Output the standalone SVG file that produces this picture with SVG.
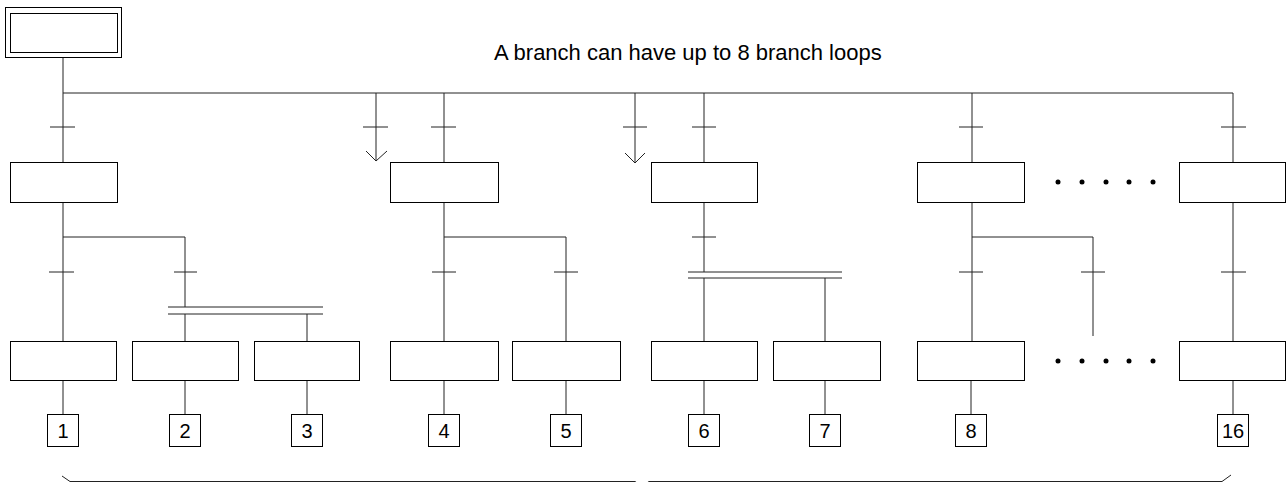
<svg xmlns="http://www.w3.org/2000/svg" width="1286" height="482" viewBox="0 0 1286 482">
<style>
.ln{stroke:#222;stroke-width:1;fill:none}
.st{fill:#fff;stroke:#000;stroke-width:1}
.nb{fill:#fff;stroke:#000;stroke-width:1}
.num{font-family:"Liberation Sans",Arial,sans-serif;font-size:20px;fill:#000;text-anchor:middle}
.ttl{font-family:"Liberation Sans",Arial,sans-serif;font-size:22px;fill:#000}
.dot{fill:#000}
</style>
<rect x="0" y="0" width="1286" height="482" fill="#fff"/>
<g id="connectors">
  <path class="ln" d="M63 52V341"/>
  <path class="ln" d="M63 93H1233"/>
  <path class="ln" d="M50 127H75M363 127H388M431 127H456M623 127H647M692 127H716M959 127H983M1221 127H1246"/>
  <path class="ln" d="M63 237H185V307"/>
  <path class="ln" d="M49 272H74M174 272H197"/>
  <path class="ln" d="M168 307H323M168 314H323"/>
  <path class="ln" d="M185 314V341M307 314V341"/>
  <path class="ln" d="M376 93V161M366 151L376 161L387 151"/>
  <path class="ln" d="M635 93V163M625 153L635 163L645 153"/>
  <path class="ln" d="M444 93V341"/>
  <path class="ln" d="M444 237H566V341"/>
  <path class="ln" d="M432 272H456M554 272H578"/>
  <path class="ln" d="M704 93V272"/>
  <path class="ln" d="M692 237H716"/>
  <path class="ln" d="M688 272H842M688 278H842"/>
  <path class="ln" d="M704 278V341M825 278V341"/>
  <path class="ln" d="M972 93V341"/>
  <path class="ln" d="M972 237H1093V336"/>
  <path class="ln" d="M959 272H983M1081 272H1105"/>
  <path class="ln" d="M1233 93V341"/>
  <path class="ln" d="M1221 272H1246"/>
  <path class="ln" d="M63 380V414M185 380V414M307 380V414M444 380V414M566 380V414M704 380V414M825 380V414M971 380V414M1233 380V414"/>
  <path class="ln" d="M62 476L70 481.5H635L642 486L649 481.5H1222L1231 475"/>
</g>
<g id="initial-step">
  <rect class="st" x="5.5" y="7.5" width="116" height="50"/>
  <rect class="st" x="10.5" y="13.5" width="107" height="39"/>
</g>
<g id="title"><text class="ttl" x="494" y="60">A branch can have up to 8 branch loops</text></g>
<g id="step-a1"><rect class="st" x="10.5" y="162.5" width="107" height="40"/></g>
<g id="step-a2"><rect class="st" x="390.5" y="162.5" width="108" height="40"/></g>
<g id="step-a3"><rect class="st" x="651.5" y="162.5" width="106" height="40"/></g>
<g id="step-a4"><rect class="st" x="917.5" y="162.5" width="107" height="40"/></g>
<g id="step-a5"><rect class="st" x="1179.5" y="162.5" width="106" height="40"/></g>
<g id="step-b1"><rect class="st" x="10.5" y="341.5" width="106" height="39"/></g>
<g id="step-b2"><rect class="st" x="132.5" y="341.5" width="106" height="39"/></g>
<g id="step-b3"><rect class="st" x="254.5" y="341.5" width="105" height="39"/></g>
<g id="step-b4"><rect class="st" x="390.5" y="341.5" width="108" height="39"/></g>
<g id="step-b5"><rect class="st" x="512.5" y="341.5" width="108" height="39"/></g>
<g id="step-b6"><rect class="st" x="651.5" y="341.5" width="106" height="39"/></g>
<g id="step-b7"><rect class="st" x="773.5" y="341.5" width="107" height="39"/></g>
<g id="step-b8"><rect class="st" x="917.5" y="341.5" width="107" height="39"/></g>
<g id="step-b16"><rect class="st" x="1179.5" y="341.5" width="106" height="39"/></g>
<g id="dots">
  <circle class="dot" cx="1058" cy="182" r="2.5"/><circle class="dot" cx="1082" cy="182" r="2.5"/><circle class="dot" cx="1106" cy="182" r="2.5"/><circle class="dot" cx="1129" cy="182" r="2.5"/><circle class="dot" cx="1153" cy="182" r="2.5"/>
  <circle class="dot" cx="1058" cy="361" r="2.5"/><circle class="dot" cx="1082" cy="361" r="2.5"/><circle class="dot" cx="1106" cy="361" r="2.5"/><circle class="dot" cx="1129" cy="361" r="2.5"/><circle class="dot" cx="1153" cy="361" r="2.5"/>
</g>
<g id="num-1"><rect class="nb" x="47.5" y="414.5" width="31" height="32"/><text class="num" x="63" y="438">1</text></g>
<g id="num-2"><rect class="nb" x="169.5" y="414.5" width="31" height="32"/><text class="num" x="185" y="438">2</text></g>
<g id="num-3"><rect class="nb" x="291.5" y="414.5" width="31" height="32"/><text class="num" x="307" y="438">3</text></g>
<g id="num-4"><rect class="nb" x="428.5" y="414.5" width="31" height="32"/><text class="num" x="444" y="438">4</text></g>
<g id="num-5"><rect class="nb" x="550.5" y="414.5" width="31" height="32"/><text class="num" x="566" y="438">5</text></g>
<g id="num-6"><rect class="nb" x="688.5" y="414.5" width="31" height="32"/><text class="num" x="704" y="438">6</text></g>
<g id="num-7"><rect class="nb" x="809.5" y="414.5" width="31" height="32"/><text class="num" x="825" y="438">7</text></g>
<g id="num-8"><rect class="nb" x="955.5" y="414.5" width="31" height="32"/><text class="num" x="971" y="438">8</text></g>
<g id="num-16"><rect class="nb" x="1217.5" y="414.5" width="31" height="32"/><text class="num" x="1233" y="438">16</text></g>
</svg>
